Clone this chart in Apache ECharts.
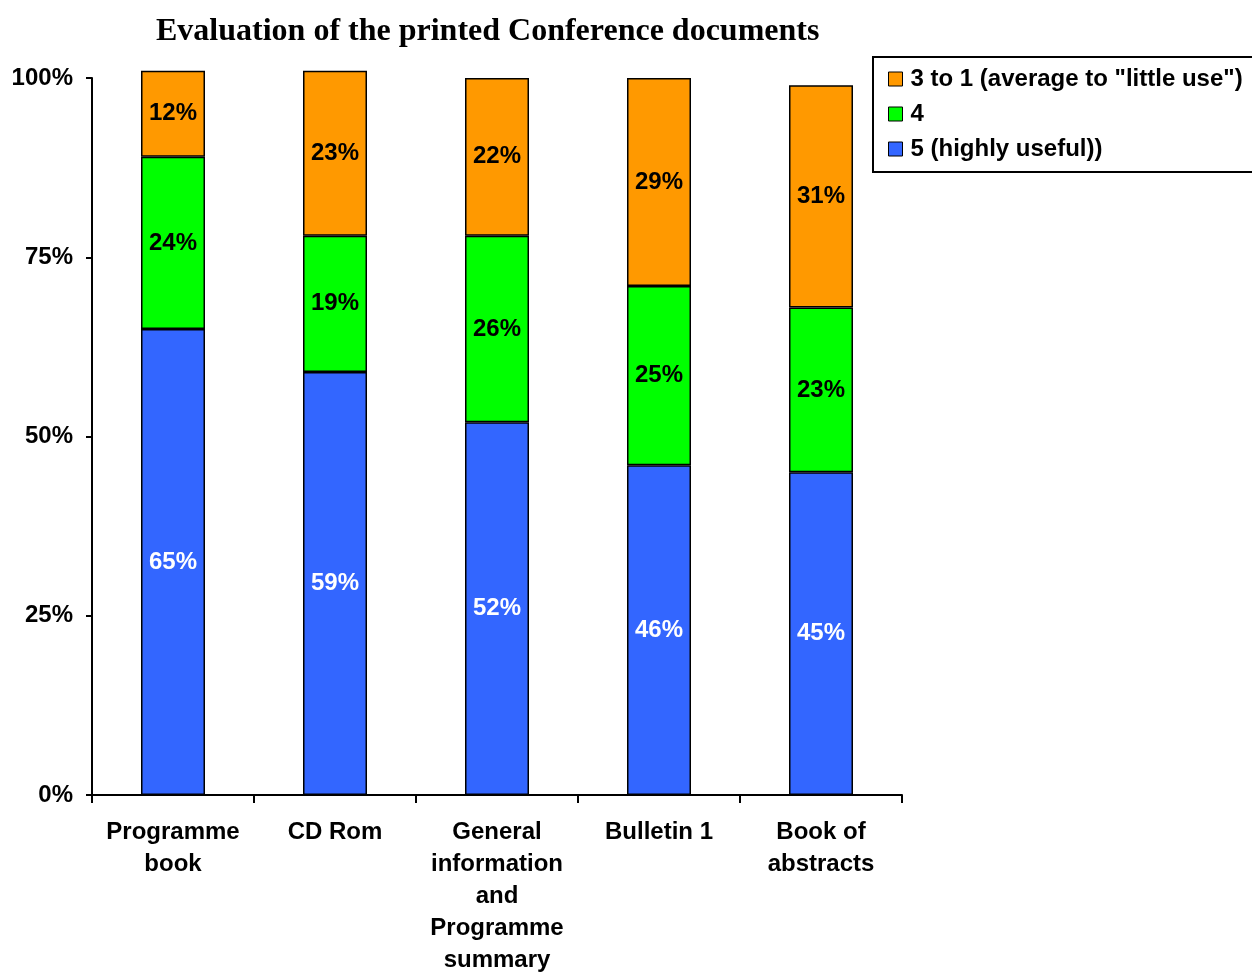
<!DOCTYPE html>
<html>
<head>
<meta charset="utf-8">
<script src="https://cdn.jsdelivr.net/npm/echarts@6/dist/echarts.min.js"></script>
<style>
  html, body { margin: 0; padding: 0; background: #fff; }
  #chart { width: 1252px; height: 972px; }
</style>
</head>
<body>
<div id="chart"></div>
<script>
const categories = [
  "Programme\nbook",
  "CD Rom",
  "General\ninformation\nand\nProgramme\nsummary",
  "Bulletin 1",
  "Book of\nabstracts"
];
const highlyUseful = [65, 59, 52, 46, 45];
const four = [24, 19, 26, 25, 23];
const littleUse = [12, 23, 22, 29, 31];

const font = "Liberation Sans, Arial, sans-serif";

const chart = echarts.init(document.getElementById("chart"));

const makeSeries = (name, data, color, labelColor) => ({
  name,
  type: "bar",
  stack: "total",
  data,
  barWidth: 64,
  clip: false,
  itemStyle: { color, borderColor: "#000", borderWidth: 1.5 },
  label: {
    show: true,
    position: "inside",
    formatter: "{c}%",
    color: labelColor,
    fontFamily: font,
    fontWeight: "bold",
    fontSize: 24
  }
});

chart.setOption({
  animation: false,
  title: {
    text: "Evaluation of the printed Conference documents",
    left: 151,
    top: 11,
    textStyle: {
      fontFamily: "Liberation Serif, Times New Roman, serif",
      fontWeight: "bold",
      fontSize: 32,
      color: "#000"
    }
  },
  legend: {
    orient: "vertical",
    left: 873,
    top: 57,
    padding: [10, 20, 11, 15],
    itemGap: 11,
    itemWidth: 14,
    itemHeight: 14,
    icon: "rect",
    borderColor: "#000",
    borderWidth: 2,
    data: ["3 to 1 (average to \"little use\")", "4", "5 (highly useful))"],
    itemStyle: { borderColor: "#000", borderWidth: 1 },
    textStyle: {
      fontFamily: font,
      fontWeight: "bold",
      fontSize: 24,
      lineHeight: 24,
      padding: [0, 0, 0, 3],
      color: "#000"
    }
  },
  grid: { left: 92, right: 350, top: 78, bottom: 177, outerBoundsMode: "none" },
  xAxis: {
    type: "category",
    data: categories,
    axisLine: { lineStyle: { color: "#000", width: 2 } },
    axisTick: { show: true, length: 8, lineStyle: { color: "#000", width: 2 } },
    axisLabel: {
      interval: 0,
      margin: 21,
      color: "#000",
      fontFamily: font,
      fontWeight: "bold",
      fontSize: 24,
      lineHeight: 32
    }
  },
  yAxis: {
    type: "value",
    min: 0,
    max: 100,
    interval: 25,
    splitLine: { show: false },
    axisLine: { show: true, lineStyle: { color: "#000", width: 2 } },
    axisTick: { show: true, length: 6, lineStyle: { color: "#000", width: 2 } },
    axisLabel: {
      formatter: "{value}%",
      margin: 19,
      color: "#000",
      fontFamily: font,
      fontWeight: "bold",
      fontSize: 24
    }
  },
  series: [
    makeSeries("5 (highly useful))", highlyUseful, "#3366FF", "#fff"),
    makeSeries("4", four, "#00FF00", "#000"),
    makeSeries("3 to 1 (average to \"little use\")", littleUse, "#FF9900", "#000")
  ]
});
</script>
</body>
</html>
